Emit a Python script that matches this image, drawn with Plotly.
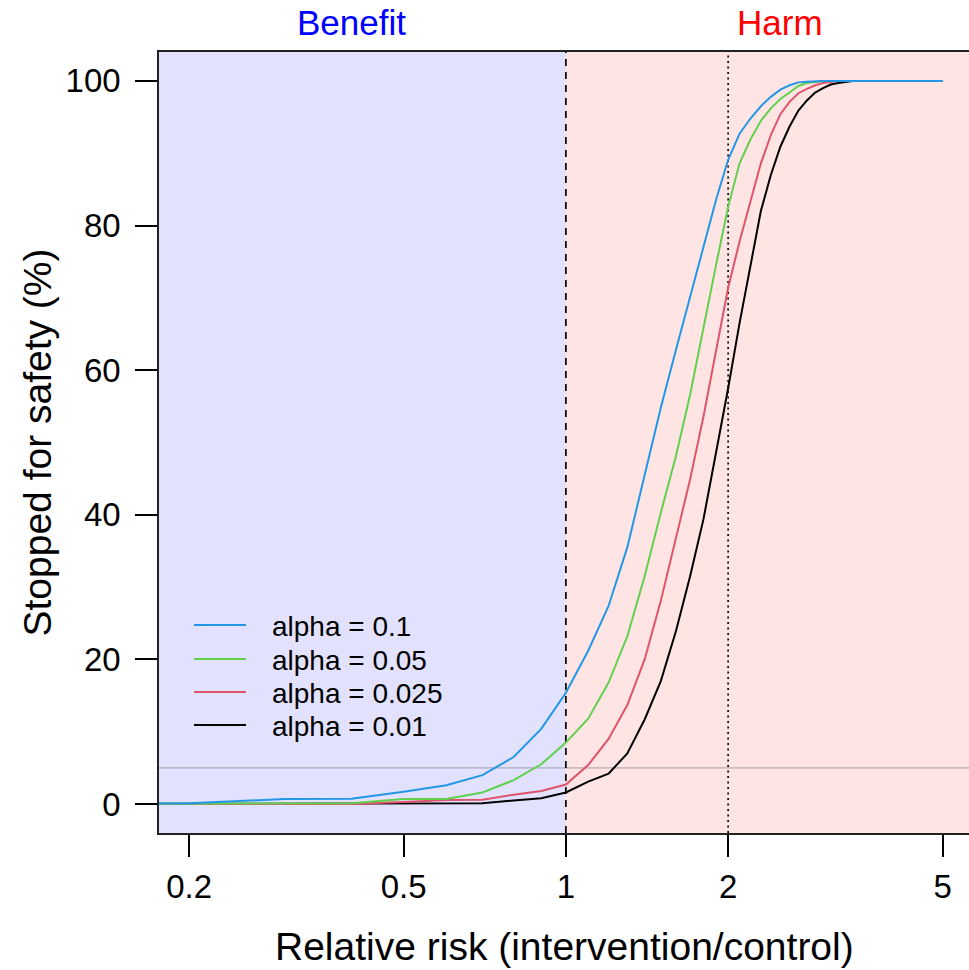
import numpy as np
import plotly.graph_objects as go

# ---- data ----
rr = [0.1, 0.2, 0.3, 0.4, 0.5, 0.6, 0.7, 0.8, 0.9, 1.0,
      1.1, 1.2, 1.3, 1.4, 1.5, 1.6, 1.7, 1.8, 1.9, 2.0,
      2.1, 2.2, 2.3, 2.4, 2.5, 2.6, 2.7, 2.8, 2.9, 3.0,
      3.1, 3.2, 3.3, 3.4, 3.5, 4.0, 4.5, 5.0]

stop_a010 = [0.0, 0.1, 0.7, 0.75, 1.7, 2.6, 4.0, 6.5, 10.4, 15.4,
             21.2, 27.4, 35.5, 45.3, 54.8, 62.8, 70.2, 77.3, 83.6, 89.1,
             92.7, 94.8, 96.5, 97.8, 98.8, 99.4, 99.8, 99.9, 100, 100,
             100, 100, 100, 100, 100, 100, 100, 100]
stop_a005 = [0.0, 0.0, 0.0, 0.1, 0.7, 0.7, 1.6, 3.3, 5.5, 8.5,
             11.8, 16.8, 23.2, 31.5, 40.3, 48.1, 56.6, 66.0, 74.6, 82.6,
             88.6, 91.9, 94.5, 96.2, 97.5, 98.4, 99.3, 99.7, 99.9, 100,
             100, 100, 100, 100, 100, 100, 100, 100]
stop_a0025 = [0.0, 0.0, 0.0, 0.0, 0.3, 0.55, 0.6, 1.3, 1.8, 2.7,
              5.4, 9.0, 13.7, 20.0, 28.1, 36.6, 44.9, 53.6, 62.8, 71.4,
              77.8, 83.3, 88.6, 92.5, 95.4, 97.1, 98.3, 98.9, 99.4, 99.7,
              99.9, 100, 100, 100, 100, 100, 100, 100]
stop_a001 = [0.0, 0.0, 0.0, 0.0, 0.1, 0.0, 0.1, 0.5, 0.8, 1.6,
             3.1, 4.2, 7.0, 11.7, 17.0, 23.9, 31.5, 39.4, 48.5, 57.5,
             66.5, 74.4, 82.0, 87.0, 90.9, 93.7, 95.9, 97.3, 98.4, 99.0,
             99.5, 99.7, 99.9, 100, 100, 100, 100, 100]

series_names = ["alpha = 0.01", "alpha = 0.025", "alpha = 0.05", "alpha = 0.1"]
series_colors = ["#000000", "#DF536B", "#61D04F", "#2297E6"]
series_values = [stop_a001, stop_a0025, stop_a005, stop_a010]

x_ticks = [0.2, 0.5, 1, 2, 5]
x_ticktext = ["0.2", "0.5", "1", "2", "5"]
y_ticks = [0, 20, 40, 60, 80, 100]

null_rr = 1
harm_ref_rr = 2
safety_level = 5
benefit_label_x = 0.4
harm_label_x = 2.5

# ---- layout geometry ----
W, H = 969, 970
ML, MR, MT, MB = 159, 0, 52, 137
plot_w = W - ML - MR
plot_h = H - MT - MB
px_per_decade = 539.0
x_lo = np.log10(0.2) - 0.04 * (np.log10(5) - np.log10(0.2))
x_hi = x_lo + plot_w / px_per_decade


def px_to_paper_x(px):
    return (px - ML) / plot_w


def px_to_paper_y(py):
    return (H - MB - py) / plot_h


FONT = "Liberation Sans, Arial, sans-serif"

fig = go.Figure()
for name, col, vals in zip(series_names, series_colors, series_values):
    fig.add_trace(go.Scatter(
        x=rr, y=vals, mode="lines", name=name,
        line=dict(color=col, width=2), showlegend=False,
    ))

shapes = [
    # benefit region
    dict(type="rect", xref="x", yref="paper", x0=0.01, x1=null_rr, y0=0, y1=1,
         fillcolor="rgb(226,226,255)", line=dict(width=0), layer="below"),
    # 5% line
    dict(type="line", xref="paper", yref="y", x0=0, x1=1,
         y0=safety_level, y1=safety_level,
         line=dict(color="rgba(150,150,160,0.5)", width=1.8), layer="below"),
    # null line
    dict(type="line", xref="x", yref="paper", x0=null_rr, x1=null_rr, y0=0, y1=1,
         line=dict(color="#111111", width=1.8, dash="7px,6px"), layer="below"),
    # RR=2 line
    dict(type="line", xref="x", yref="paper", x0=harm_ref_rr, x1=harm_ref_rr, y0=0, y1=1,
         line=dict(color="#111111", width=1.8, dash="2px,3.5px"), layer="below"),
]

annotations = [
    dict(text="Benefit", x=np.log10(benefit_label_x), xref="x", y=1.038, yref="paper",
         showarrow=False, font=dict(family=FONT, size=35, color="#0000FF"),
         xanchor="center", yanchor="middle"),
    dict(text="Harm", x=np.log10(harm_label_x), xref="x", y=1.038, yref="paper",
         showarrow=False, font=dict(family=FONT, size=35, color="#FF0000"),
         xanchor="center", yanchor="middle"),
    dict(text="Stopped for safety (%)", x=px_to_paper_x(37), xref="paper",
         y=0.5, yref="paper", textangle=-90, showarrow=False,
         font=dict(family=FONT, size=39, color="black"),
         xanchor="center", yanchor="middle"),
    dict(text="Relative risk (intervention/control)", x=0.5, xref="paper",
         y=px_to_paper_y(946), yref="paper", showarrow=False,
         font=dict(family=FONT, size=39, color="black"),
         xanchor="center", yanchor="middle"),
]

# legend (R-style, top-to-bottom: alpha = 0.1 ... alpha = 0.01)
leg_rows_py = [625, 659, 692, 725]
leg_line_px = (194, 246)
leg_text_px = 270
for row_py, name, col in zip(leg_rows_py, series_names[::-1], series_colors[::-1]):
    shapes.append(dict(type="line", xref="paper", yref="paper",
                       x0=px_to_paper_x(leg_line_px[0]), x1=px_to_paper_x(leg_line_px[1]),
                       y0=px_to_paper_y(row_py), y1=px_to_paper_y(row_py),
                       line=dict(color=col, width=2), layer="above"))
    annotations.append(dict(text=name, xref="paper", yref="paper",
                            x=px_to_paper_x(leg_text_px), y=px_to_paper_y(row_py + 1),
                            xanchor="left", yanchor="middle", showarrow=False,
                            font=dict(family=FONT, size=28, color="black")))

fig.update_layout(
    width=W, height=H,
    margin=dict(l=ML, r=MR, t=MT, b=MB, pad=0),
    paper_bgcolor="white",
    plot_bgcolor="rgb(255,228,228)",
    font=dict(family=FONT, color="black"),
    shapes=shapes,
    annotations=annotations,
    showlegend=False,
    xaxis=dict(
        type="log", range=[x_lo, x_hi],
        tickvals=x_ticks, ticktext=x_ticktext,
        ticks="outside", ticklen=22, tickwidth=1.5, tickcolor="black",
        tickfont=dict(family=FONT, size=33, color="black"),
        ticklabelstandoff=2,
        showline=True, linecolor="#222222", linewidth=1.6, mirror=True,
        showgrid=False, zeroline=False,
    ),
    yaxis=dict(
        range=[-4, 104],
        tickvals=y_ticks,
        ticks="outside", ticklen=22, tickwidth=1.5, tickcolor="black",
        tickfont=dict(family=FONT, size=33, color="black"),
        ticklabelstandoff=8,
        showline=True, linecolor="#222222", linewidth=1.6, mirror=False,
        showgrid=False, zeroline=False,
    ),
)

fig.write_html("out.html")
